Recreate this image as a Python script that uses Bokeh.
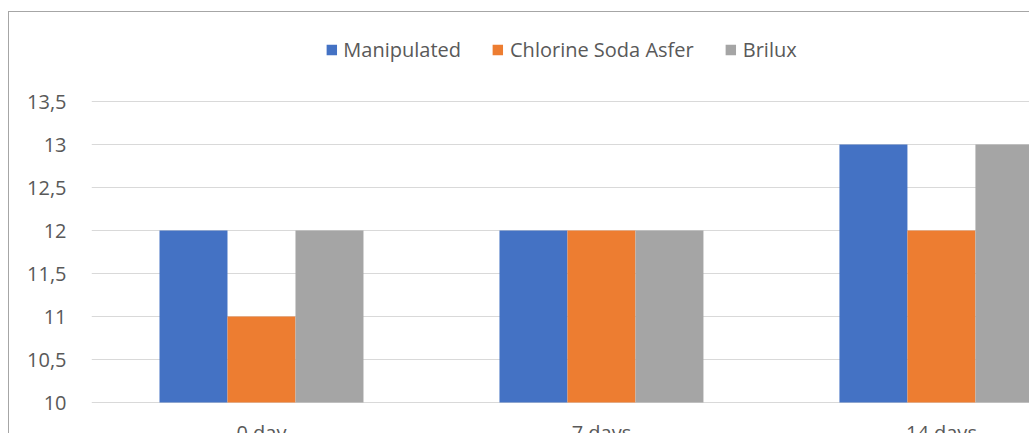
from bokeh.plotting import figure
from bokeh.models import Range1d, FixedTicker, Legend, LegendItem
from bokeh.core.properties import value
from bokeh.embed import file_html
from bokeh.resources import INLINE
import numpy as np

categories = ["0 day", "7 days", "14 days"]
series_names = ["Manipulated", "Chlorine Soda Asfer", "Brilux"]
manipulated = [12, 12, 13]
chlorine_soda_asfer = [11, 12, 12]
brilux = [12, 12, 13]
y_ticks = [10, 10.5, 11, 11.5, 12, 12.5, 13, 13.5]
y_tick_labels = ["10", "10,5", "11", "11,5", "12", "12,5", "13", "13,5"]

colors = ["#4472C4", "#ED7D31", "#A5A5A5"]
FONT = "Open Sans"
TXT = "#595959"

p = figure(width=1021, height=422, output_backend="svg", toolbar_location=None,
           x_range=Range1d(0, 2.762), y_range=Range1d(9.628, 14.535),
           min_border_left=82, min_border_right=0, min_border_top=0, min_border_bottom=0)
p.styles = {"margin-left": "8px", "margin-top": "11px",
            "border-left": "1px solid #a6a6a6", "border-top": "1px solid #a6a6a6"}
p.outline_line_color = None
p.xaxis.visible = False
p.xgrid.visible = False

p.yaxis.ticker = FixedTicker(ticks=y_ticks)
p.yaxis.major_label_overrides = dict(zip(y_ticks, y_tick_labels))
p.yaxis.axis_line_color = None
p.yaxis.major_tick_line_color = None
p.yaxis.minor_tick_line_color = None
p.yaxis.major_label_standoff = 19
p.yaxis.major_label_text_font = FONT
p.yaxis.major_label_text_font_size = "20px"
p.yaxis.major_label_text_color = TXT
p.ygrid.ticker = FixedTicker(ticks=y_ticks)
p.ygrid.grid_line_color = "#d9d9d9"
p.ygrid.grid_line_width = 1

xc = np.arange(len(categories)) + 0.5
bw = 0.2
items = []
for i, (name, vals) in enumerate(zip(series_names, [manipulated, chlorine_soda_asfer, brilux])):
    r = p.vbar(x=xc + (i - 1) * bw, top=vals, bottom=10, width=bw,
               fill_color=colors[i], line_color=None)
    items.append(LegendItem(label=name, renderers=[r]))

p.text(x=xc, y=[9.81] * len(categories), text=categories, text_align="center",
       text_baseline="top", text_font=value(FONT), text_font_size="20px", text_color=TXT)

legend = Legend(items=items, orientation="horizontal", location="top_center",
                glyph_width=13, glyph_height=13, label_standoff=6, spacing=30,
                label_text_font=FONT, label_text_font_size="20px", label_text_color=TXT,
                background_fill_alpha=0, border_line_color=None, margin=24, padding=24)
p.add_layout(legend, "center")

open("out.html", "w").write(file_html(p, INLINE))
